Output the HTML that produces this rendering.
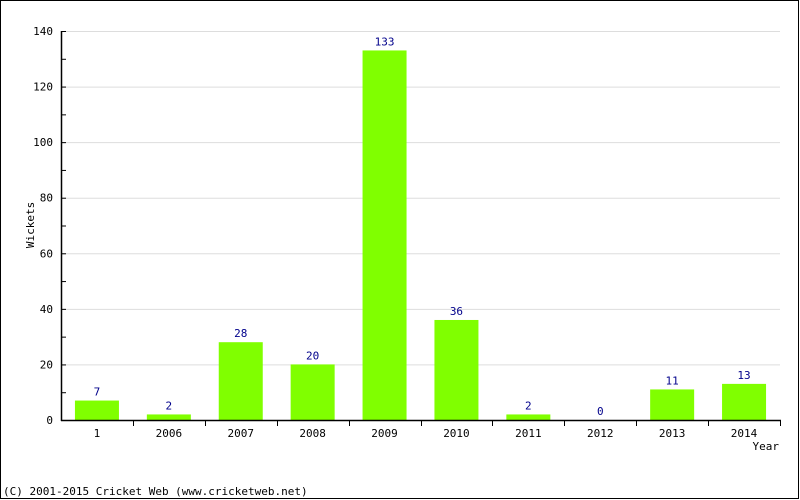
<!DOCTYPE html>
<html><head><style>
body{margin:0;background:#fff}
svg{display:block}
text{font-family:"DejaVu Sans Mono","Liberation Mono",monospace;font-size:11px}
</style></head><body>
<svg id="c" width="800" height="500">
<rect x="0.5" y="0.5" width="798" height="498" fill="#fff" stroke="#000"/>
<g id="g"></g>
</svg>
<script>
const categories=["1","2006","2007","2008","2009","2010","2011","2012","2013","2014"];
const wickets=[7,2,28,20,133,36,2,0,11,13];
const yTicks=[0,20,40,60,80,100,120,140];
const NS="http://www.w3.org/2000/svg";
const g=document.getElementById('g');
const L=61,R=780,T=31,B=420,YMAX=140;
const bw=(R-L)/categories.length;
const y=v=>B-(v/YMAX)*(B-T);
const x=i=>L+bw*i;
function mk(t,a,txt){const e=document.createElementNS(NS,t);for(const k in a)e.setAttribute(k,a[k]);if(txt!==undefined)e.textContent=txt;g.appendChild(e);return e;}
yTicks.forEach(v=>{
 if(v>0){const gl=mk('line',{x1:L,x2:R,y1:y(v)+0.5,y2:y(v)+0.5,stroke:'#ddd'});
 
 }
 const t=mk('text',{x:L-8,y:y(v)+4,'text-anchor':'end'},String(v));
 
 
});
for(let v=0;v<=YMAX;v+=10){mk('line',{x1:L,x2:L+5,y1:y(v)+0.5,y2:y(v)+0.5,stroke:'#000'});}
categories.forEach((c,i)=>{
 const v=wickets[i];
 const cx=x(i)+bw/2;
 if(v>0){const r=mk('rect',{x:cx-22,y:y(v),width:44,height:B-y(v),fill:'#80ff00'});
 
 }
 const vl=mk('text',{x:cx,y:y(v)-5,'text-anchor':'middle',fill:'#00008b'},String(v));
 
 
 const xl=mk('text',{x:cx,y:437,'text-anchor':'middle'},c);
 
 
 mk('line',{x1:Math.round(x(i+1))+0.5,x2:Math.round(x(i+1))+0.5,y1:B,y2:B+6,stroke:'#000'});
});
mk('line',{x1:L+0.5,x2:L+0.5,y1:T,y2:B+1,stroke:'#000','stroke-width':1.5});
mk('line',{x1:L,x2:R+1,y1:B+0.5,y2:B+0.5,stroke:'#000','stroke-width':1.5});
const yt=mk('text',{x:0,y:0,transform:'translate(34,225) rotate(-90)','text-anchor':'middle'},'Wickets');


const xt=mk('text',{x:779,y:450,'text-anchor':'end'},'Year');


const cp=mk('text',{x:3,y:495},'(C) 2001-2015 Cricket Web (www.cricketweb.net)');


</script>
</body></html>
